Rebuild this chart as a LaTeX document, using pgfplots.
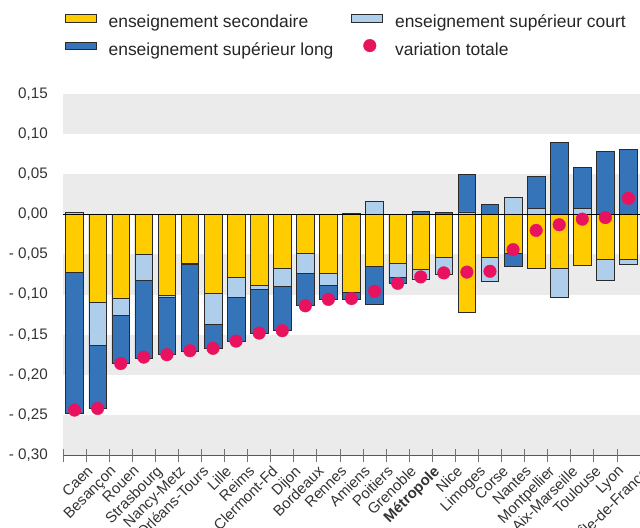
\documentclass[border=0pt]{standalone}
\usepackage{pgfplots}
\pgfplotsset{compat=1.18}
\usepackage{fontspec}
\setmainfont{Liberation Sans}
\definecolor{cyel}{HTML}{FFCC00}
\definecolor{cblue}{HTML}{3574B9}
\definecolor{clight}{HTML}{AFCEEC}
\definecolor{cpink}{HTML}{E8125E}
\definecolor{cband}{HTML}{EBEBEB}
\definecolor{cedge}{HTML}{2B2B2B}
\begin{document}
\begin{tikzpicture}
\begin{axis}[
  at={(0,0)}, anchor=south west,
  scale only axis, width=577bp, height=361bp,
  xmin=-0.5, xmax=24.5, ymin=-0.30, ymax=0.15,
  ybar, bar width=17.6bp,
  axis on top,
  axis x line*=bottom, axis y line*=left,
  y axis line style={draw=none},
  x axis line style={draw=black!65, line width=0.8bp},
  xtick={0,...,24},
  xticklabels={Caen,Besançon,Rouen,Strasbourg,Nancy-Metz,Orléans-Tours,Lille,Reims,Clermont-Fd,Dijon,Bordeaux,Rennes,Amiens,Poitiers,Grenoble,\textbf{Métropole},Nice,Limoges,Corse,Nantes,Montpellier,Aix-Marseille,Toulouse,Lyon,Île-de-France},
  major tick length=0pt,
  tick align=center,
  extra x ticks={-0.5,0.5,...,24.5},
  extra x tick labels={},
  extra x tick style={major tick length=13bp, tick style={draw=black!55, line width=0.8bp}},
  ytick={-0.30,-0.25,-0.20,-0.15,-0.10,-0.05,0,0.05,0.10,0.15},
  yticklabels={{- 0,30},{- 0,25},{- 0,20},{- 0,15},{- 0,10},{- 0,05},{0,00},{0,05},{0,10},{0,15}},
  yticklabel style={font=\fontsize{15.3}{18}\selectfont, text=black!80, anchor=east, inner sep=0pt, xshift=-15bp},
  xticklabel style={font=\fontsize{15}{18}\selectfont, text=black!80, rotate=45, anchor=north east, inner sep=0pt, xshift=1.5bp, yshift=-15bp},
  legend columns=2,
  legend cell align=left,
  legend style={draw=none, fill=none, at={(axis description cs:-0.002,1.227)}, anchor=north west,
    font=\fontsize{17.5}{20}\selectfont, text=black!85,
    nodes={inner sep=0pt, text height=12.6bp, text depth=3.7bp},
    row sep=7.7bp,
    /tikz/every odd column/.append style={column sep=12bp},
    /tikz/every even column/.append style={column sep=18bp}},
]
% background bands
\fill[cband] (axis cs:-0.5,0.10) rectangle (axis cs:24.5,0.15);
\fill[cband] (axis cs:-0.5,0) rectangle (axis cs:24.5,0.05);
\fill[cband] (axis cs:-0.5,-0.10) rectangle (axis cs:24.5,-0.05);
\fill[cband] (axis cs:-0.5,-0.20) rectangle (axis cs:24.5,-0.15);
\fill[cband] (axis cs:-0.5,-0.30) rectangle (axis cs:24.5,-0.25);

\addlegendimage{legend image code/.code={\draw[fill=cyel,draw=cedge,line width=0.6bp] (0bp,1.3bp) rectangle (31bp,8.7bp);}}
\addlegendentry{enseignement secondaire}
\addlegendimage{legend image code/.code={\draw[fill=clight,draw=cedge,line width=0.6bp] (0bp,1.3bp) rectangle (31bp,8.7bp);}}
\addlegendentry{enseignement supérieur court}
\addlegendimage{legend image code/.code={\draw[fill=cblue,draw=cedge,line width=0.6bp] (0bp,1.3bp) rectangle (31bp,8.7bp);}}
\addlegendentry{enseignement supérieur long}
\addlegendimage{legend image code/.code={\fill[cpink] (18bp,5bp) circle (6.3bp);}}
\addlegendentry{variation totale}

% negative side: bar ends (blue = full negative extent)
\addplot[bar shift=0pt, fill=cblue, draw=cedge, line width=0.6bp, forget plot] coordinates {
(0,-0.2485) (1,-0.242) (2,-0.186) (3,-0.179) (4,-0.175) (5,-0.1705) (6,-0.167) (7,-0.158)
(8,-0.1485) (9,-0.145) (10,-0.114) (11,-0.106) (12,-0.1065) (13,-0.112) (14,-0.086) (19,-0.065)};
\addplot[bar shift=0pt, fill=clight, draw=cedge, line width=0.6bp, forget plot] coordinates {
(1,-0.163) (2,-0.126) (3,-0.082) (4,-0.104) (5,-0.062) (6,-0.137) (7,-0.103) (8,-0.0935)
(9,-0.090) (10,-0.074) (11,-0.0885) (14,-0.079) (15,-0.0815) (16,-0.075) (18,-0.083)
(21,-0.103) (23,-0.082) (24,-0.062)};
\addplot[bar shift=0pt, fill=cyel, draw=cedge, line width=0.6bp, forget plot] coordinates {
(0,-0.072) (1,-0.110) (2,-0.105) (3,-0.050) (4,-0.1015) (5,-0.061) (6,-0.0985) (7,-0.078)
(8,-0.089) (9,-0.067) (10,-0.0485) (11,-0.073) (12,-0.0975) (13,-0.065) (14,-0.061)
(15,-0.069) (16,-0.053) (17,-0.1225) (18,-0.0535) (19,-0.0485) (20,-0.067) (21,-0.067)
(22,-0.064) (23,-0.0565) (24,-0.0565)};
% positive side
\addplot[bar shift=0pt, fill=cblue, draw=cedge, line width=0.6bp, forget plot] coordinates {
(12,0.0015) (15,0.0035) (16,0.002) (17,0.050) (18,0.012) (20,0.047) (21,0.090)
(22,0.0585) (23,0.078) (24,0.081)};
\addplot[bar shift=0pt, fill=clight, draw=cedge, line width=0.6bp, forget plot] coordinates {
(0,0.002) (13,0.016) (17,0.003) (19,0.021) (20,0.007) (22,0.0075)};

\draw[black, line width=0.8bp] (axis cs:-0.5,0) -- (axis cs:24.5,0);

% variation totale
\addplot[only marks, mark=*, mark size=6.3bp, color=cpink, forget plot] coordinates {
(0,-0.244) (1,-0.242) (2,-0.186) (3,-0.178) (4,-0.175) (5,-0.170) (6,-0.167) (7,-0.158)
(8,-0.148) (9,-0.145) (10,-0.114) (11,-0.106) (12,-0.105) (13,-0.096) (14,-0.086)
(15,-0.078) (16,-0.073) (17,-0.072) (18,-0.071) (19,-0.044) (20,-0.020) (21,-0.013)
(22,-0.006) (23,-0.004) (24,0.020)};

\node[anchor=base west, inner sep=0pt, font=\fontsize{15.5}{18}\selectfont, text=black!80]
  at (axis description cs:-0.002,1.035) {en années d’études};
\end{axis}
\pgfresetboundingbox
\path[use as bounding box] (-63bp,-73bp) rectangle (577bp,455bp);
\end{tikzpicture}
\end{document}
